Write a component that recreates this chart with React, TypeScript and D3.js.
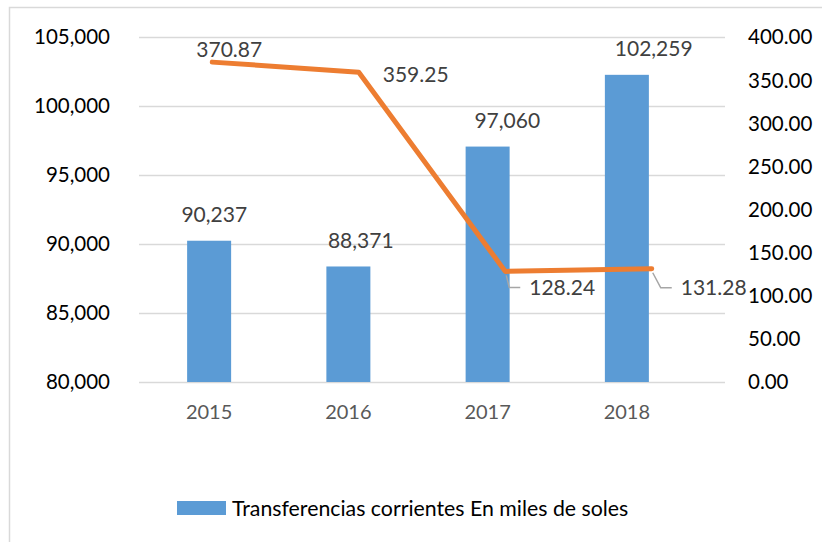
import React, { useEffect, useRef } from 'react';
import * as d3 from 'd3';

const years = ['2015', '2016', '2017', '2018'];
const transferencias = [90237, 88371, 97060, 102259];
const lineValues = [370.87, 359.25, 128.24, 131.28];
const leftTicks = [80000, 85000, 90000, 95000, 100000, 105000];
const rightTicks = [0, 50, 100, 150, 200, 250, 300, 350, 400];
const legendLabel = 'Transferencias corrientes En miles de soles';

const FONT = 'Lato, "Open Sans", sans-serif';

function App() {
  const svgRef = useRef<SVGSVGElement>(null);

  useEffect(() => {
    const svg = d3.select(svgRef.current);
    svg.selectAll('*').remove();

    const width = 822;
    const height = 542;
    const plot = { left: 139, right: 725, top: 37, bottom: 382 };

    svg.attr('width', width).attr('height', height);

    // outer chart border (runs off the right and bottom edges)
    svg.append('rect')
      .attr('x', 9.5).attr('y', 7.5)
      .attr('width', 840).attr('height', 560)
      .attr('fill', 'none').attr('stroke', '#d9d9d9').attr('stroke-width', 1.5);

    const yLeft = d3.scaleLinear().domain([80000, 105000]).range([plot.bottom, plot.top]);
    const yRight = d3.scaleLinear().domain([0, 400]).range([plot.bottom, plot.top]);

    // bars sit on a slightly narrower band than the line points
    const xBar = d3.scaleBand()
      .domain(years)
      .range([139.5, 696.5])
      .paddingInner(0.684)
      .paddingOuter(0.342);
    const xLine = d3.scalePoint()
      .domain(years)
      .range([plot.left, plot.right])
      .padding(0.5);

    // gridlines
    svg.append('g')
      .selectAll('line')
      .data(leftTicks)
      .enter()
      .append('line')
      .attr('x1', plot.left).attr('x2', plot.right)
      .attr('y1', (d) => Math.round(yLeft(d)) + 0.5)
      .attr('y2', (d) => Math.round(yLeft(d)) + 0.5)
      .attr('stroke', '#d9d9d9').attr('stroke-width', 1.3);

    // left axis labels
    svg.append('g')
      .selectAll('text')
      .data(leftTicks)
      .enter()
      .append('text')
      .attr('x', 110)
      .attr('y', (d) => yLeft(d))
      .attr('dy', '0.36em')
      .attr('text-anchor', 'end')
      .attr('font-family', FONT).attr('font-size', 20.5)
      .attr('fill', '#000')
      .text((d) => d3.format(',')(d));

    // right axis labels
    svg.append('g')
      .selectAll('text')
      .data(rightTicks)
      .enter()
      .append('text')
      .attr('x', 748)
      .attr('y', (d) => yRight(d))
      .attr('dy', '0.36em')
      .attr('text-anchor', 'start')
      .attr('font-family', FONT).attr('font-size', 20.5)
      .attr('fill', '#000')
      .text((d) => d3.format('.2f')(d));

    // bars
    svg.append('g')
      .selectAll('rect')
      .data(transferencias)
      .enter()
      .append('rect')
      .attr('x', (d, i) => xBar(years[i]))
      .attr('width', xBar.bandwidth())
      .attr('y', (d) => yLeft(d))
      .attr('height', (d) => plot.bottom - yLeft(d))
      .attr('fill', '#5b9bd5');

    // category labels
    svg.append('g')
      .selectAll('text')
      .data(years)
      .enter()
      .append('text')
      .attr('x', (d) => xBar(d) + xBar.bandwidth() / 2)
      .attr('y', 412)
      .attr('dy', '0.36em')
      .attr('text-anchor', 'middle')
      .attr('font-family', FONT).attr('font-size', 20)
      .attr('fill', '#595959')
      .text((d) => d);

    // bar value labels
    svg.append('g')
      .selectAll('text')
      .data(transferencias)
      .enter()
      .append('text')
      .attr('x', (d, i) => xLine(years[i]) + 2)
      .attr('y', (d) => yLeft(d) - 26)
      .attr('dy', '0.36em')
      .attr('text-anchor', 'middle')
      .attr('font-family', FONT).attr('font-size', 21)
      .attr('fill', '#404040')
      .text((d) => d3.format(',')(d));

    // line
    const line = d3.line<number>()
      .x((d, i) => xLine(years[i]))
      .y((d) => yRight(d));

    svg.append('path')
      .datum(lineValues)
      .attr('d', line)
      .attr('fill', 'none')
      .attr('stroke', '#ed7d31')
      .attr('stroke-width', 5)
      .attr('stroke-linecap', 'round')
      .attr('stroke-linejoin', 'round');

    // line labels (placement offsets relative to each point)
    const labelOffsets = [
      { dx: 17, dy: -13, anchor: 'middle', leader: false },
      { dx: 24, dy: 2, anchor: 'start', leader: false },
      { dx: 24, dy: 16, anchor: 'start', leader: true },
      { dx: 29, dy: 19, anchor: 'start', leader: true },
    ];
    const lineLabels = svg.append('g');
    lineValues.forEach((v, i) => {
      const px = xLine(years[i]);
      const py = yRight(v);
      const o = labelOffsets[i];
      const lx = px + o.dx;
      const ly = py + o.dy;
      if (o.leader) {
        lineLabels.append('path')
          .attr('d', `M${px + 1},${py + 4} L${lx - 20},${ly} L${lx - 9},${ly}`)
          .attr('fill', 'none')
          .attr('stroke', '#a6a6a6')
          .attr('stroke-width', 1.5);
      }
      lineLabels.append('text')
        .attr('x', lx)
        .attr('y', ly)
        .attr('dy', '0.36em')
        .attr('text-anchor', o.anchor)
        .attr('font-family', FONT).attr('font-size', 21)
        .attr('fill', '#404040')
        .text(d3.format('.2f')(v));
    });

    // legend
    const legend = svg.append('g');
    legend.append('rect')
      .attr('x', 177).attr('y', 501)
      .attr('width', 49).attr('height', 14)
      .attr('fill', '#5b9bd5');
    legend.append('text')
      .attr('x', 232).attr('y', 508)
      .attr('dy', '0.36em')
      .attr('font-family', FONT).attr('font-size', 21.3)
      .attr('fill', '#000')
      .text(legendLabel);
  }, []);

  return (
    <svg
      ref={svgRef}
      style={{ position: 'absolute', left: 0, top: 0, background: '#fff' }}
    ></svg>
  );
}

export default App;
